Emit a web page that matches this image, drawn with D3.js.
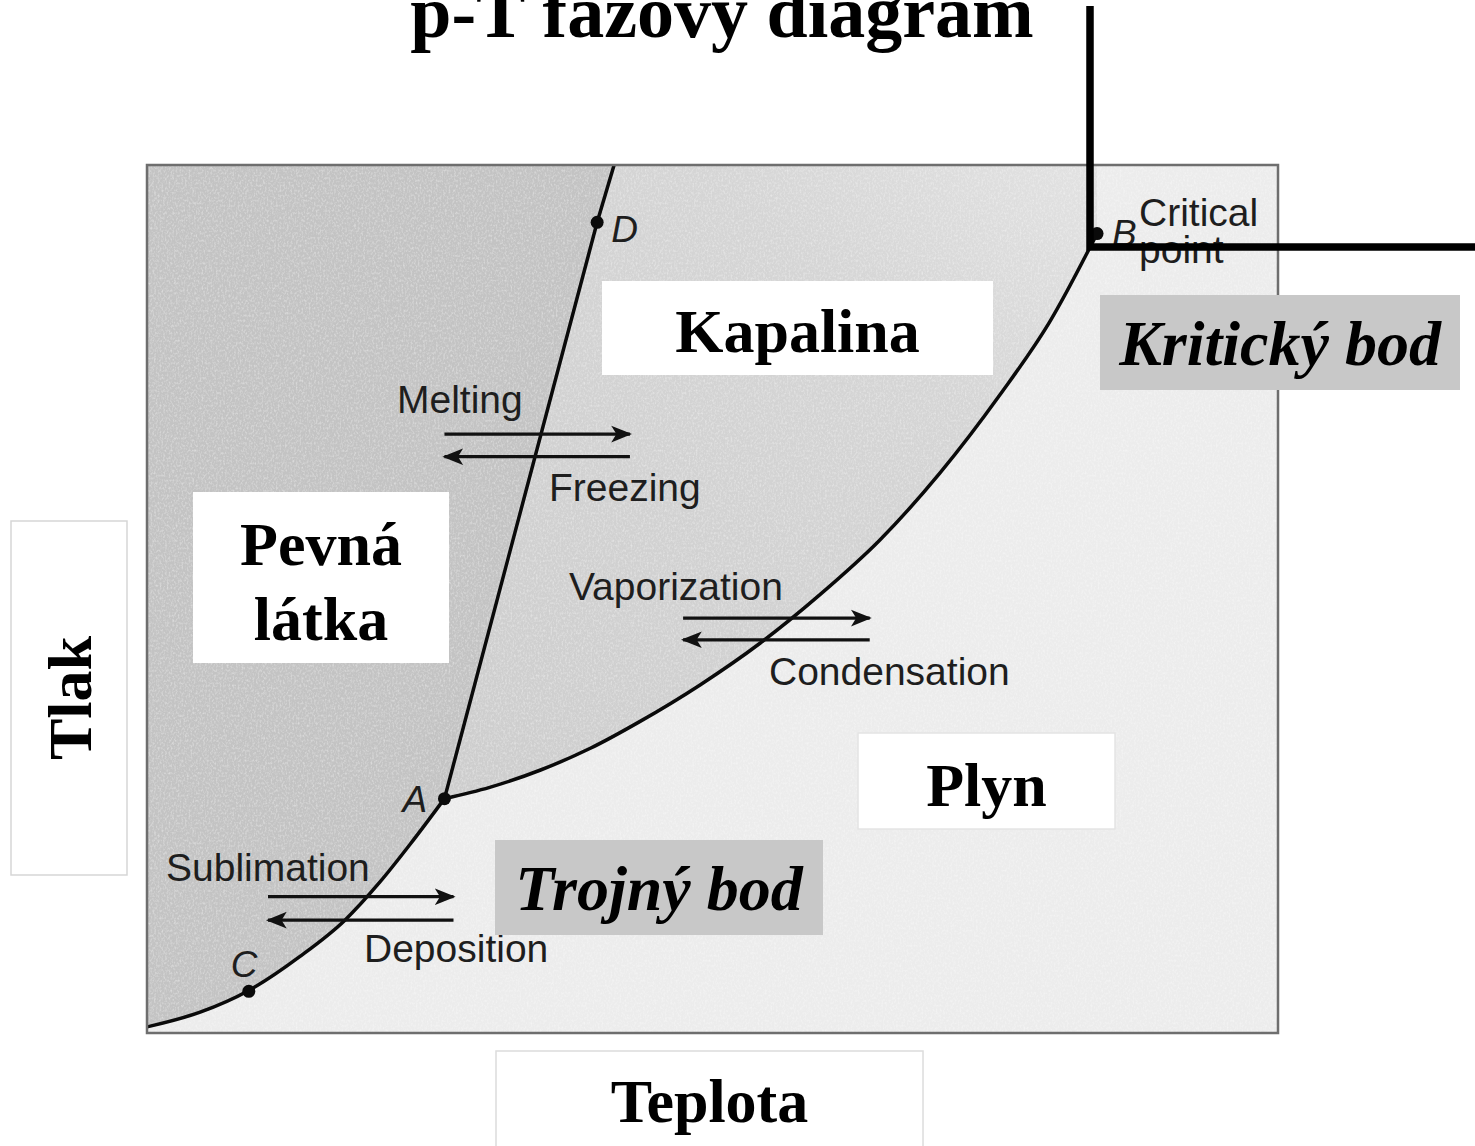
<!DOCTYPE html>
<html lang="cs">
<head>
<meta charset="utf-8">
<title>p-T fázový diagram</title>
<style>
  body { margin: 0; background: #fff; }
  svg { display: block; }
</style>
</head>
<body>
<svg id="chart" width="1475" height="1146"></svg>

<script src="https://d3js.org/d3.v7.min.js"></script>
<script>
  // curves, in T/p units 0..100 (no real numbers on the axes)
  var sublimation = [
    [0, 0.7], [4.7, 2.4], [9.0, 4.9], [13.5, 8.8], [17.5, 13.0],
    [20.6, 17.4], [23.3, 21.8], [26.3, 27.0]
  ];
  var melting = [
    [26.3, 27.0], [39.8, 93.4], [41.3, 100]
  ];
  var vaporization = [
    [26.3, 27.0], [30.3, 28.3], [34.8, 30.3], [39.2, 32.8], [43.6, 35.9],
    [48.9, 40.1], [54.2, 44.9], [59.5, 50.5], [64.8, 56.8], [70.1, 64.5],
    [75.4, 73.5], [79.8, 81.9], [84.0, 92.1]
  ];
  var points = [
    {"label": "C", "T": 9.0, "p": 4.8},
    {"label": "A", "T": 26.3, "p": 27.0},
    {"label": "D", "T": 39.8, "p": 93.4},
    {"label": "B", "T": 84.0, "p": 92.1}
  ];
  // pairs of arrows: [T from, T to, p upper, p lower]
  var arrowPairs = [
    {"top": "Melting", "bottom": "Freezing", "t0": 26.3, "t1": 42.7, "pUp": 69.0, "pDown": 66.4},
    {"top": "Vaporization", "bottom": "Condensation", "t0": 47.4, "t1": 63.9, "pUp": 47.8, "pDown": 45.3},
    {"top": "Sublimation", "bottom": "Deposition", "t0": 10.7, "t1": 27.1, "pUp": 15.7, "pDown": 13.0}
  ];

  var svg = d3.select("#chart");
  var x0 = 147, x1 = 1278, y0 = 1033, y1 = 165;

  var xScale = d3.scaleLinear().domain([0, 100]).range([x0, x1]);
  var yScale = d3.scaleLinear().domain([0, 100]).range([y0, y1]);

  var line = d3.line()
    .x(d => xScale(d[0]))
    .y(d => yScale(d[1]))
    .curve(d3.curveMonotoneX);
  var straight = d3.line()
    .x(d => xScale(d[0]))
    .y(d => yScale(d[1]));

  var defs = svg.append("defs");

  // grainy maze-ish texture of the scanned figure
  var f = defs.append("filter").attr("id", "grain")
    .attr("x", 0).attr("y", 0).attr("width", "100%").attr("height", "100%");
  f.append("feTurbulence").attr("type", "fractalNoise")
    .attr("baseFrequency", "0.55 0.4").attr("numOctaves", 2).attr("seed", 4);
  f.append("feColorMatrix").attr("type", "matrix")
    .attr("values", "0 0 0 0 1  0 0 0 0 1  0 0 0 0 1  0 0 0 -2.2 1.25");

  var lg = defs.append("linearGradient").attr("id", "liquid")
    .attr("x1", "0").attr("y1", "1").attr("x2", "1").attr("y2", "0");
  lg.append("stop").attr("offset", "0%").attr("stop-color", "#cdcdcd");
  lg.append("stop").attr("offset", "70%").attr("stop-color", "#d5d5d5");
  lg.append("stop").attr("offset", "100%").attr("stop-color", "#e2e2e2");

  var mk = defs.append("marker").attr("id", "head")
    .attr("viewBox", "0 0 10 10").attr("refX", 9).attr("refY", 5)
    .attr("markerWidth", 6.5).attr("markerHeight", 6.5)
    .attr("markerUnits", "strokeWidth").attr("orient", "auto-start-reverse");
  mk.append("path").attr("d", "M0,1 L10,5 L0,9 L2.5,5 Z").attr("fill", "#111");

  defs.append("clipPath").attr("id", "plotclip")
    .append("rect").attr("x", x0).attr("y", y1)
    .attr("width", x1 - x0).attr("height", y0 - y1);

  var plot = svg.append("g").attr("clip-path", "url(#plotclip)");

  // gas = background
  plot.append("rect")
    .attr("x", x0).attr("y", y1).attr("width", x1 - x0).attr("height", y0 - y1)
    .attr("fill", "#ececec");

  // liquid region
  plot.append("path")
    .attr("d", straight(melting) + line([[84.0, 100]].concat(vaporization.slice().reverse())).replace(/^M/, "L") + "Z")
    .attr("fill", "url(#liquid)");
  // gas side of the vapour curve (covers the bit above B)
  plot.append("path")
    .attr("d", line(vaporization) + "L" + xScale(100) + "," + yScale(100) + "L" + xScale(100) + "," + yScale(0) + "Z")
    .attr("fill", "#ececec");

  // solid region
  plot.append("path")
    .attr("d", "M" + xScale(0) + "," + yScale(100) +
      line(sublimation).replace(/^M/, "L") +
      straight(melting.slice(1)).replace(/^M/, "L") + "Z")
    .attr("fill", "#c3c3c3");

  plot.append("rect")
    .attr("x", x0).attr("y", y1).attr("width", x1 - x0).attr("height", y0 - y1)
    .attr("filter", "url(#grain)").attr("opacity", 0.4);

  // phase boundaries
  [line(sublimation), straight(melting), line(vaporization)].forEach(d => {
    plot.append("path")
      .attr("d", d)
      .attr("fill", "none")
      .attr("stroke", "#0a0a0a")
      .attr("stroke-width", 3.5);
  });

  plot.selectAll("circle.pt")
    .data(points)
    .join("circle")
    .attr("class", "pt")
    .attr("cx", d => xScale(d.T))
    .attr("cy", d => yScale(d.p))
    .attr("r", 6.5)
    .attr("fill", "#0a0a0a");

  var labelOffset = {"C": [-18, -14], "A": [-42, 13], "D": [14, 20], "B": [15, 12]};
  plot.selectAll("text.pt")
    .data(points)
    .join("text")
    .attr("class", "pt")
    .text(d => d.label)
    .attr("x", d => xScale(d.T) + labelOffset[d.label][0])
    .attr("y", d => yScale(d.p) + labelOffset[d.label][1])
    .attr("font-family", "Liberation Sans, Arial, sans-serif")
    .attr("font-style", "italic")
    .attr("font-size", 37)
    .attr("fill", "#1e1e1e");

  // arrows
  arrowPairs.forEach(a => {
    plot.append("line")
      .attr("x1", xScale(a.t0)).attr("x2", xScale(a.t1))
      .attr("y1", yScale(a.pUp)).attr("y2", yScale(a.pUp))
      .attr("stroke", "#111").attr("stroke-width", 3.2)
      .attr("marker-end", "url(#head)");
    plot.append("line")
      .attr("x1", xScale(a.t1)).attr("x2", xScale(a.t0))
      .attr("y1", yScale(a.pDown)).attr("y2", yScale(a.pDown))
      .attr("stroke", "#111").attr("stroke-width", 3.2)
      .attr("marker-end", "url(#head)");
  });

  var smallLabels = [
    {"text": "Melting", "x": 397, "y": 413},
    {"text": "Freezing", "x": 549, "y": 501},
    {"text": "Vaporization", "x": 569, "y": 600},
    {"text": "Condensation", "x": 769, "y": 685},
    {"text": "Sublimation", "x": 166, "y": 881},
    {"text": "Deposition", "x": 364, "y": 962},
    {"text": "Critical", "x": 1139, "y": 226},
    {"text": "point", "x": 1139, "y": 263}
  ];
  plot.selectAll("text.small")
    .data(smallLabels)
    .join("text")
    .attr("class", "small")
    .text(d => d.text)
    .attr("x", d => d.x)
    .attr("y", d => d.y)
    .attr("font-family", "Liberation Sans, Arial, sans-serif")
    .attr("font-size", 39)
    .attr("fill", "#1e1e1e");

  svg.append("rect")
    .attr("x", x0).attr("y", y1).attr("width", x1 - x0).attr("height", y0 - y1)
    .attr("fill", "none").attr("stroke", "#6e6e6e").attr("stroke-width", 2.5);

  // overlay boxes with Czech labels
  var boxes = [
    {"x": 602, "y": 281, "w": 391, "h": 94, "fill": "#fff", "stroke": "none", "lines": ["Kapalina"], "base": 352, "italic": false},
    {"x": 193, "y": 492, "w": 256, "h": 171, "fill": "#fff", "stroke": "none", "lines": ["Pevná", "látka"], "base": 565, "italic": false},
    {"x": 858, "y": 733, "w": 257, "h": 96, "fill": "#fff", "stroke": "#e4e4e4", "lines": ["Plyn"], "base": 806, "italic": false},
    {"x": 495, "y": 840, "w": 328, "h": 95, "fill": "#c8c8c8", "stroke": "none", "lines": ["Trojný bod"], "base": 910, "italic": true},
    {"x": 1100, "y": 295, "w": 360, "h": 95, "fill": "#c8c8c8", "stroke": "none", "lines": ["Kritický bod"], "base": 365, "italic": true},
    {"x": 496, "y": 1051, "w": 427, "h": 110, "fill": "#fff", "stroke": "#dcdcdc", "lines": ["Teplota"], "base": 1122, "italic": false}
  ];
  boxes.forEach(b => {
    svg.append("rect")
      .attr("x", b.x).attr("y", b.y).attr("width", b.w).attr("height", b.h)
      .attr("fill", b.fill).attr("stroke", b.stroke).attr("stroke-width", 1.5);
    b.lines.forEach((t, i) => {
      svg.append("text")
        .text(t)
        .attr("x", b.x + b.w / 2)
        .attr("y", b.base + i * 75)
        .attr("text-anchor", "middle")
        .attr("font-family", "Liberation Serif, Times New Roman, serif")
        .attr("font-weight", "bold")
        .attr("font-style", b.italic ? "italic" : "normal")
        .attr("font-size", b.italic ? 64 : 62)
        .attr("fill", "#000");
    });
  });

  // y axis title box
  svg.append("rect")
    .attr("x", 11).attr("y", 521).attr("width", 116).attr("height", 354)
    .attr("fill", "#fff").attr("stroke", "#d6d6d6").attr("stroke-width", 1.5);
  svg.append("text")
    .text("Tlak")
    .attr("transform", "translate(91,698) rotate(-90)")
    .attr("text-anchor", "middle")
    .attr("font-family", "Liberation Serif, Times New Roman, serif")
    .attr("font-weight", "bold")
    .attr("font-size", 62)
    .attr("fill", "#000");

  // title (cut at the top edge, as in the slide)
  svg.append("text")
    .text("p-T fázový diagram")
    .attr("x", 722)
    .attr("y", 37)
    .attr("text-anchor", "middle")
    .attr("font-family", "Liberation Serif, Times New Roman, serif")
    .attr("font-weight", "bold")
    .attr("font-size", 74)
    .attr("fill", "#000");

  // pointer line to the critical point
  svg.append("path")
    .attr("d", "M1090,6 L1090,247 L1475,247")
    .attr("fill", "none")
    .attr("stroke", "#000")
    .attr("stroke-width", 7.5);
</script>
</body>
</html>
